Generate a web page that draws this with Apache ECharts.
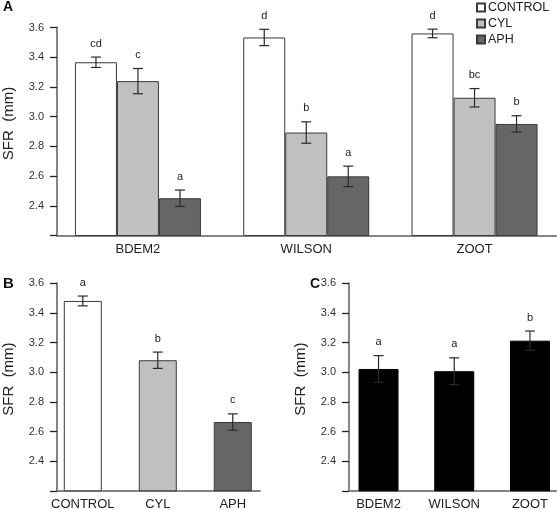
<!DOCTYPE html>
<html>
<head>
<meta charset="utf-8">
<script src="https://cdn.jsdelivr.net/npm/echarts@6/dist/echarts.min.js"></script>
<style>
html,body{margin:0;padding:0;background:#fff;}
#chart{width:557px;height:510px;}
</style>
</head>
<body>
<div id="chart"></div>
<script>
// ---- data ----
const groups = ['BDEM2', 'WILSON', 'ZOOT'];
const treatments = ['CONTROL', 'CYL', 'APH'];
const yTicks = [2.4, 2.6, 2.8, 3.0, 3.2, 3.4, 3.6];

// Panel A: treatment x genotype
const aControl = [3.366, 3.533, 3.560];
const aCyl = [3.239, 2.893, 3.127];
const aAph = [2.451, 2.598, 2.951];
const aControlErr = [0.035, 0.055, 0.029];
const aCylErr = [0.085, 0.072, 0.062];
const aAphErr = [0.055, 0.069, 0.055];
const aControlSig = ['cd', 'd', 'd'];
const aCylSig = ['c', 'b', 'bc'];
const aAphSig = ['a', 'a', 'b'];

// Panel B: treatment means
const bMeans = [3.481, 3.081, 2.664];
const bErr = [0.033, 0.055, 0.055];
const bSig = ['a', 'b', 'c'];

// Panel C: genotype means
const cMeans = [3.022, 3.007, 3.213];
const cErr = [0.090, 0.090, 0.065];
const cSig = ['a', 'a', 'b'];

// ---- styles ----
const FONT = "'Liberation Sans', Arial, sans-serif";
const treatColors = ['#ffffff', '#c0c0c0', '#666666'];
const borderCol = '#3a3a3a';
const axisCol = '#858585';

const chart = echarts.init(document.getElementById('chart'), null, {renderer: 'canvas'});

function yAxis(gi) {
  return {
    type: 'value', gridIndex: gi, min: 2.2, max: 3.6, interval: 0.2,
    name: 'SFR  (mm)', nameLocation: 'middle', nameGap: 41,
    nameTextStyle: {fontSize: 15, color: '#222', fontFamily: FONT, padding: [0, 0, 0, 16]},
    axisLine: {show: true, onZero: false, lineStyle: {color: axisCol, width: 2}},
    axisTick: {show: true, inside: false, length: 7, lineStyle: {color: '#222', width: 1.3}},
    axisLabel: {customValues: yTicks, margin: 13, fontSize: 11, color: '#333', fontFamily: FONT,
      formatter: v => v.toFixed(1)},
    splitLine: {show: false}
  };
}
function xAxis(gi, min, max, labels) {
  return {
    type: 'value', gridIndex: gi, min: min, max: max,
    axisLine: {show: true, onZero: false, lineStyle: {color: axisCol, width: 2}},
    axisTick: {show: false},
    splitLine: {show: false},
    axisLabel: {customValues: [0, 1, 2], margin: 7, fontSize: 13, color: '#222', fontFamily: FONT,
      formatter: v => labels[Math.round(v)] || ''}
  };
}

function errSeries(gi, means, errs, sigs, offsetPx) {
  return {
    type: 'custom', xAxisIndex: gi, yAxisIndex: gi, z: 10, silent: true,
    data: means.map((m, i) => [i, m, errs[i]]),
    encode: {x: 0, y: 1},
    renderItem: function (params, api) {
      const x = api.value(0), m = api.value(1), e = api.value(2);
      const top = api.coord([x, m + e]);
      const bot = api.coord([x, m - e]);
      const cx = top[0] + offsetPx;
      const hw = 5;
      const ls = {stroke: '#2a2a2a', lineWidth: 1.2};
      return {
        type: 'group',
        children: [
          {type: 'line', shape: {x1: cx, y1: top[1], x2: cx, y2: bot[1]}, style: ls},
          {type: 'line', shape: {x1: cx - hw, y1: top[1], x2: cx + hw, y2: top[1]}, style: ls},
          {type: 'line', shape: {x1: cx - hw, y1: bot[1], x2: cx + hw, y2: bot[1]}, style: ls},
          {type: 'text', style: {text: sigs[params.dataIndex], x: cx, y: top[1] - 8,
            textAlign: 'center', textVerticalAlign: 'bottom', fontSize: 11, fill: '#222', fontFamily: FONT}}
        ]
      };
    }
  };
}

const aVals = [aControl, aCyl, aAph];
const aErrs = [aControlErr, aCylErr, aAphErr];
const aSigs = [aControlSig, aCylSig, aAphSig];
const barWA = 42;

const series = [];
treatments.forEach((t, k) => {
  series.push({
    name: t, type: 'bar', xAxisIndex: 0, yAxisIndex: 0,
    barWidth: barWA, barGap: '0%',
    data: aVals[k].map((v, i) => [i, v]),
    itemStyle: {color: treatColors[k], borderColor: borderCol, borderWidth: 1}
  });
});
treatments.forEach((t, k) => {
  series.push(errSeries(0, aVals[k], aErrs[k], aSigs[k], (k - 1) * barWA));
});

series.push({
  type: 'bar', xAxisIndex: 1, yAxisIndex: 1, barWidth: 38,
  data: bMeans.map((v, i) => ({value: [i, v], itemStyle: {color: treatColors[i]}})),
  itemStyle: {borderColor: borderCol, borderWidth: 1}
});
series.push(errSeries(1, bMeans, bErr, bSig, 0));

series.push({
  type: 'bar', xAxisIndex: 2, yAxisIndex: 2, barWidth: 40,
  data: cMeans.map((v, i) => [i, v]),
  itemStyle: {color: '#000000', borderColor: '#000', borderWidth: 1}
});
series.push(errSeries(2, cMeans, cErr, cSig, 0));

const option = {
  animation: false,
  backgroundColor: '#fff',
  title: [
    {text: 'A', left: 3, top: 0, padding: 0, textStyle: {fontSize: 14, fontWeight: 'bold', color: '#111', fontFamily: FONT}},
    {text: 'B', left: 3, top: 276, padding: 0, textStyle: {fontSize: 15, fontWeight: 'bold', color: '#111', fontFamily: FONT}},
    {text: 'C', left: 310, top: 277, padding: 0, textStyle: {fontSize: 14, fontWeight: 'bold', color: '#111', fontFamily: FONT}}
  ],
  legend: {
    data: treatments, orient: 'vertical', left: 476, top: 1, padding: 0,
    itemWidth: 8, itemHeight: 8, itemGap: 3, icon: 'rect',
    textStyle: {fontSize: 12.5, color: '#222', fontFamily: FONT, padding: [0, 0, 0, -2]}
  },
  grid: [
    {left: 57, top: 27.5, width: 499, height: 208, containLabel: false, outerBoundsMode: 'none'},
    {left: 57, top: 283.3, width: 203, height: 207.5, containLabel: false, outerBoundsMode: 'none'},
    {left: 349, top: 283.3, width: 207, height: 207.5, containLabel: false, outerBoundsMode: 'none'}
  ],
  xAxis: [
    xAxis(0, -0.481, 2.484, groups),
    xAxis(1, -0.344, 2.363, treatments),
    xAxis(2, -0.390, 2.344, groups)
  ],
  yAxis: [yAxis(0), yAxis(1), yAxis(2)],
  series: series
};
chart.setOption(option);
</script>
</body>
</html>
